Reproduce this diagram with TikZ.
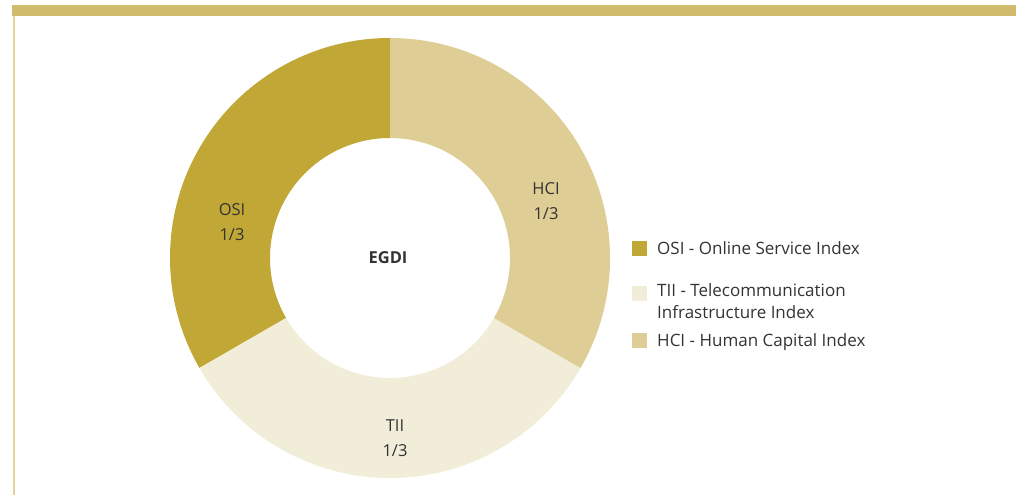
\documentclass[tikz,border=0pt]{standalone}
\usepackage{fontspec}
\setmainfont{Open Sans}
\usetikzlibrary{positioning}
\definecolor{osicol}{HTML}{C1A836}
\definecolor{hcicol}{HTML}{DFCD96}
\definecolor{tiicol}{HTML}{F2EDD9}
\definecolor{barcol}{HTML}{D1BC6E}
\definecolor{rulecol}{HTML}{E3D49E}
\definecolor{txtcol}{HTML}{333333}
\tikzset{
  lbl/.style={text=txtcol, font=\fontsize{16.5}{25}\selectfont, align=center},
  key/.style={minimum size=15pt, inner sep=0pt},
  keytext/.style={text=txtcol, font=\fontsize{17}{22}\selectfont, align=left, anchor=base west, inner sep=0pt}
}
\begin{document}
\begin{tikzpicture}[x=1pt, y=1pt]
        \useasboundingbox (0,0) rectangle (1016,495);
        \fill[barcol] (12,479) rectangle (1016,490);
        \fill[rulecol] (13,0) rectangle (15,479);

        \coordinate (c) at (390,237);
        \fill[osicol] ([shift={(90:220)}]c) arc[start angle=90, end angle=210, radius=220]
            -- ([shift={(210:120)}]c) arc[start angle=210, end angle=90, radius=120] -- cycle;
        \fill[tiicol] ([shift={(210:220)}]c) arc[start angle=210, end angle=330, radius=220]
            -- ([shift={(330:120)}]c) arc[start angle=330, end angle=210, radius=120] -- cycle;
        \fill[hcicol] ([shift={(-30:220)}]c) arc[start angle=-30, end angle=90, radius=220]
            -- ([shift={(90:120)}]c) arc[start angle=90, end angle=-30, radius=120] -- cycle;

        \node (egdi) [lbl, font=\fontsize{16.5}{25}\selectfont\bfseries] at (388,237) {EGDI};
        \node (osi) [lbl] at (232,273) {OSI\\1/3};
        \node (hci) [lbl] at (546,294) {HCI\\1/3};
        \node (tii) [lbl] at (395,57) {TII\\1/3};

        \node (kosi) [key, fill=osicol] at (639,246) {};
        \node (ktii) [key, fill=tiicol] at (639,201) {};
        \node (khci) [key, fill=hcicol] at (639,154) {};
        \node (tosi) [keytext] at (657,240) {OSI - Online Service Index};
        \node (ttii) [keytext] at (657,176) {TII - Telecommunication\\Infrastructure Index};
        \node (thci) [keytext] at (657,148) {HCI - Human Capital Index};
\end{tikzpicture}
\end{document}
